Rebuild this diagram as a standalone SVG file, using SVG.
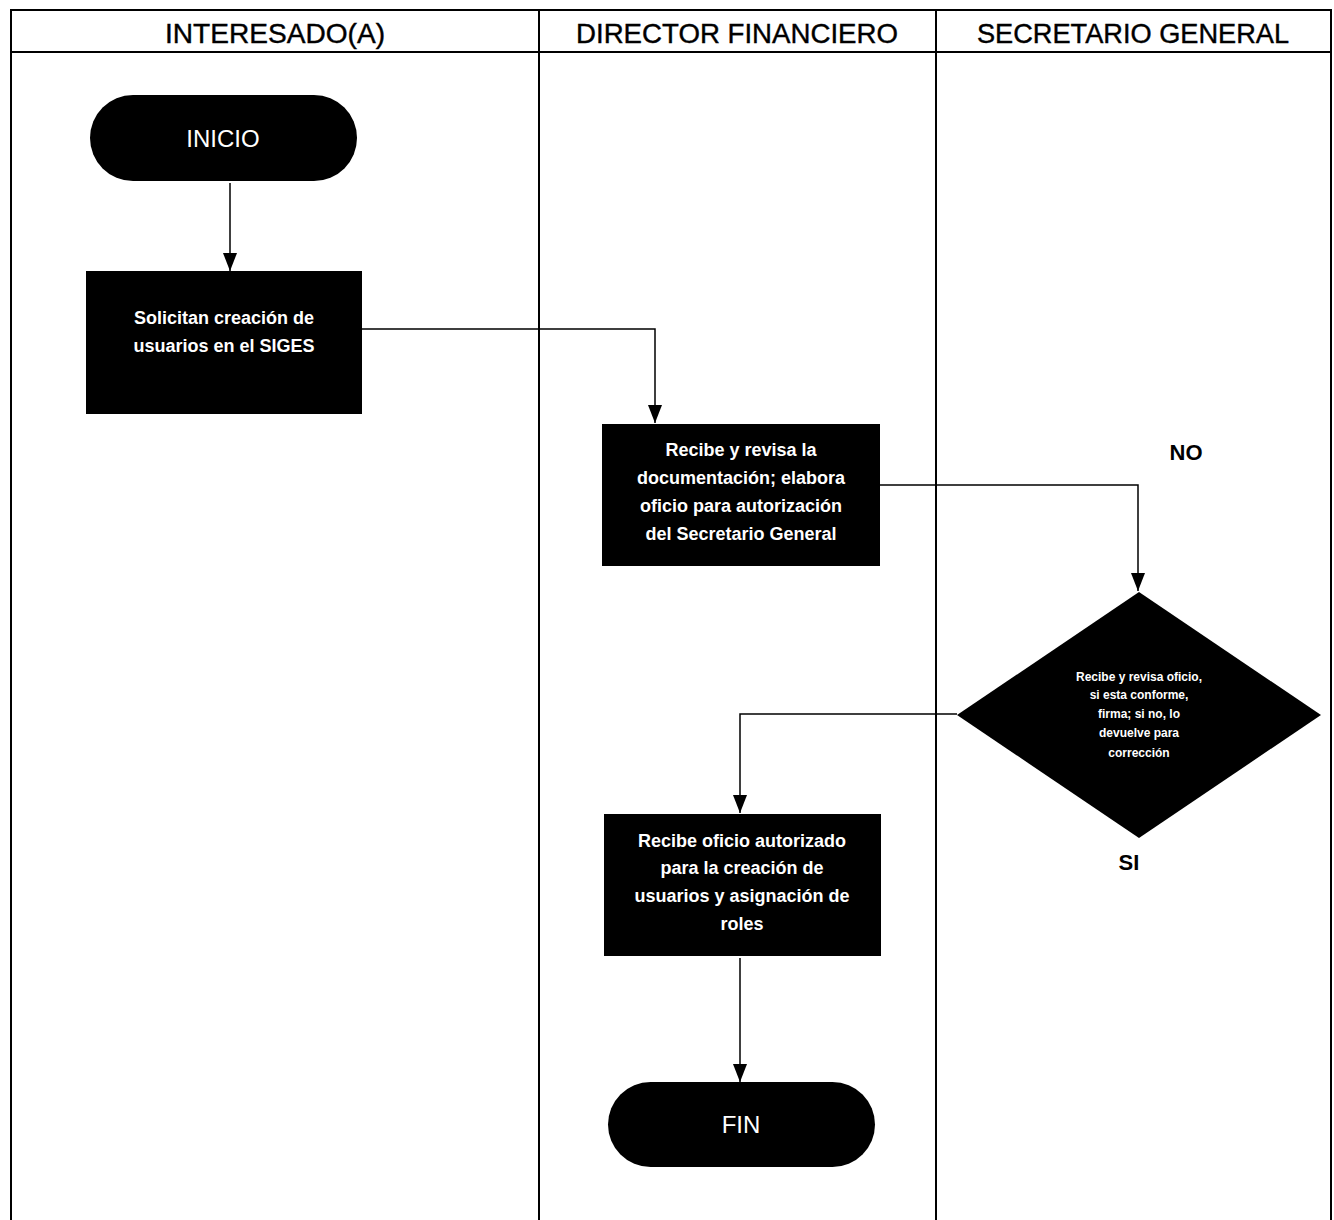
<svg xmlns="http://www.w3.org/2000/svg" width="1334" height="1220" viewBox="0 0 1334 1220">
  <style>
    .frame { fill: none; stroke: #000; stroke-width: 2; }
    .shape { fill: #000; stroke: none; }
    .head { font-family: "Liberation Sans", Arial, sans-serif; font-size: 28px; fill: #000; text-anchor: middle; stroke: #000; stroke-width: 0.4; }
    .lbl { font-family: "Liberation Sans", Arial, sans-serif; font-size: 18px; fill: #fff; text-anchor: middle; font-weight: bold; }
    .term { font-family: "Liberation Sans", Arial, sans-serif; font-size: 24px; fill: #fff; text-anchor: middle; }
    .small { font-family: "Liberation Sans", Arial, sans-serif; font-size: 12px; fill: #fff; text-anchor: middle; font-weight: bold; }
    .tag { font-family: "Liberation Sans", Arial, sans-serif; font-size: 22px; fill: #000; text-anchor: middle; font-weight: bold; }
    .conn { fill: none; stroke: #000; stroke-width: 1.5; }
  </style>
  <defs>
    <marker id="arrow" markerWidth="18" markerHeight="14" refX="18" refY="7" orient="auto" markerUnits="userSpaceOnUse" viewBox="0 0 18 14">
      <path d="M0,0 L18,7 L0,14 Z" fill="#000"/>
    </marker>
  </defs>

  <rect width="1334" height="1220" fill="#fff"/>

  <!-- swimlane frame -->
  <g id="lanes">
    <path class="frame" d="M11,1220 V10 H1331 V1220"/>
    <line class="frame" x1="11" y1="52" x2="1331" y2="52"/>
    <line class="frame" x1="539" y1="10" x2="539" y2="1220"/>
    <line class="frame" x1="936" y1="10" x2="936" y2="1220"/>
    <text class="head" x="275" y="43" textLength="220" lengthAdjust="spacingAndGlyphs">INTERESADO(A)</text>
    <text class="head" x="737" y="43" textLength="322" lengthAdjust="spacingAndGlyphs">DIRECTOR FINANCIERO</text>
    <text class="head" x="1133" y="43" textLength="312" lengthAdjust="spacingAndGlyphs">SECRETARIO GENERAL</text>
  </g>

  <!-- connectors -->
  <g id="connectors">
    <path class="conn" d="M230,183 V271" marker-end="url(#arrow)"/>
    <path class="conn" d="M362,329 H655 V423" marker-end="url(#arrow)"/>
    <path class="conn" d="M880,485 H1138 V591" marker-end="url(#arrow)"/>
    <path class="conn" d="M957,714 H740 V813" marker-end="url(#arrow)"/>
    <path class="conn" d="M740,958 V1082" marker-end="url(#arrow)"/>
    <text class="tag" x="1186" y="460">NO</text>
    <text class="tag" x="1129" y="870">SI</text>
  </g>

  <g id="inicio">
    <rect class="shape" x="90" y="95" width="267" height="86" rx="43"/>
    <text class="term" x="223" y="147">INICIO</text>
  </g>

  <g id="solicitan">
    <rect class="shape" x="86" y="271" width="276" height="143"/>
    <text class="lbl" x="224" y="324">Solicitan creación de</text>
    <text class="lbl" x="224" y="352">usuarios en el SIGES</text>
  </g>

  <g id="revisa-doc">
    <rect class="shape" x="602" y="424" width="278" height="142"/>
    <text class="lbl" x="741" y="456">Recibe y revisa la</text>
    <text class="lbl" x="741" y="484">documentación; elabora</text>
    <text class="lbl" x="741" y="512">oficio para autorización</text>
    <text class="lbl" x="741" y="540">del Secretario General</text>
  </g>

  <g id="decision">
    <polygon class="shape" points="1139,592 1321,715 1139,838 957,715"/>
    <text class="small" x="1139" y="681">Recibe y revisa oficio,</text>
    <text class="small" x="1139" y="699">si esta conforme,</text>
    <text class="small" x="1139" y="718">firma; si no, lo</text>
    <text class="small" x="1139" y="737">devuelve para</text>
    <text class="small" x="1139" y="757">corrección</text>
  </g>

  <g id="recibe-oficio">
    <rect class="shape" x="604" y="814" width="277" height="142"/>
    <text class="lbl" x="742" y="847">Recibe oficio autorizado</text>
    <text class="lbl" x="742" y="874">para la creación de</text>
    <text class="lbl" x="742" y="902">usuarios y asignación de</text>
    <text class="lbl" x="742" y="930">roles</text>
  </g>

  <g id="fin">
    <rect class="shape" x="608" y="1082" width="267" height="85" rx="42.5"/>
    <text class="term" x="741" y="1133">FIN</text>
  </g>
</svg>
